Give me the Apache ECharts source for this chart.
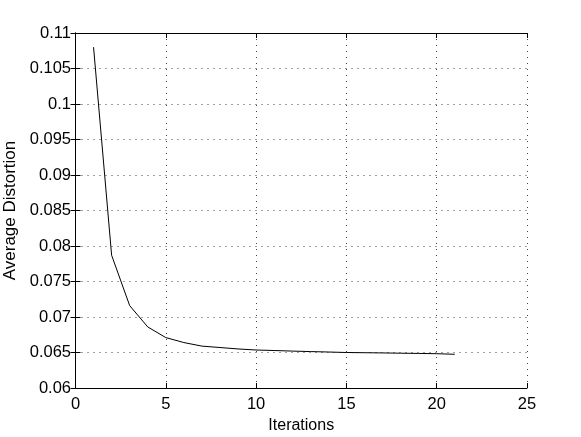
<!DOCTYPE html>
<html>
<head>
<meta charset="utf-8">
<script src="https://cdn.jsdelivr.net/npm/echarts@6/dist/echarts.min.js"></script>
<style>
  html, body { margin: 0; padding: 0; background: #fff; }
  #chart { width: 581px; height: 437px; }
</style>
</head>
<body>
<div id="chart"></div>
<script>
// data
var iterations = [1, 2, 3, 4, 5, 6, 7, 8, 9, 10, 11, 12, 13, 14, 15, 16, 17, 18, 19, 20, 21]
var distortion = [0.1080, 0.0787, 0.0716, 0.0686, 0.0671, 0.0664, 0.0659, 0.0657, 0.0655, 0.06535,
  0.06528, 0.0652, 0.06513, 0.06507, 0.0650, 0.06497, 0.06494, 0.0649, 0.06487, 0.06483, 0.06475]

var points = iterations.map(function (x, i) { return [x, distortion[i]] })

var font = 'Liberation Sans, Arial, Helvetica, sans-serif'
var gridLine = { show: true, lineStyle: { color: '#444', type: [1, 5], width: 1 } }
var fmt = function (v) { return String(parseFloat(v.toFixed(3))) }

var chart = echarts.init(document.getElementById('chart'))
chart.setOption({
  animation: false,
  backgroundColor: '#fff',
  grid: { left: 75.5, right: 54, top: 33, bottom: 49, containLabel: false, outerBoundsMode: 'none' },
  xAxis: [{
    type: 'value', min: 0, max: 25, interval: 5,
    name: 'Iterations', nameLocation: 'middle', nameGap: 27,
    nameTextStyle: { color: '#000', fontSize: 16, fontFamily: font },
    axisLine: { show: true, lineStyle: { color: '#000', width: 1 } },
    axisTick: { show: true, inside: true, length: 5, lineStyle: { color: '#000' } },
    axisLabel: { color: '#000', fontSize: 16.5, fontFamily: font, margin: 8 },
    splitLine: gridLine
  }, {
    type: 'value', min: 0, max: 25, interval: 5, position: 'top',
    axisLine: { show: true, lineStyle: { color: '#000', width: 1 } },
    axisTick: { show: true, inside: true, length: 5, lineStyle: { color: '#000' } },
    axisLabel: { show: false },
    splitLine: { show: false }
  }],
  yAxis: [{
    type: 'value', min: 0.06, max: 0.11, interval: 0.005,
    name: 'Average Distortion', nameLocation: 'middle', nameGap: 55,
    nameTextStyle: { color: '#000', fontSize: 17, fontFamily: font },
    axisLine: { show: true, lineStyle: { color: '#000', width: 1 } },
    axisTick: { show: true, inside: true, length: 5, lineStyle: { color: '#000' } },
    axisLabel: { color: '#000', fontSize: 16.5, fontFamily: font, margin: 4.5, formatter: fmt },
    splitLine: gridLine
  }, {
    type: 'value', min: 0.06, max: 0.11, interval: 0.005, position: 'right',
    axisLine: { show: true, lineStyle: { color: '#000', width: 1 } },
    axisTick: { show: true, inside: true, length: 5, lineStyle: { color: '#000' } },
    axisLabel: { show: false },
    splitLine: { show: false }
  }],
  series: [{
    type: 'line',
    data: points,
    showSymbol: false,
    lineStyle: { color: '#000', width: 1 }
  }]
})
</script>
</body>
</html>
